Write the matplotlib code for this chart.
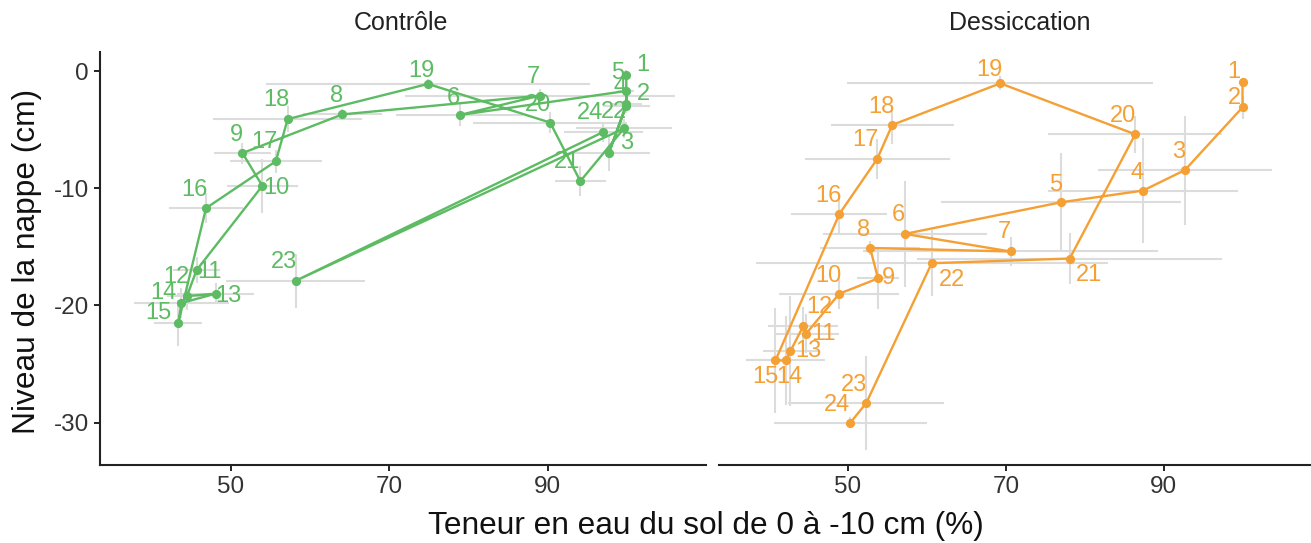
import matplotlib
matplotlib.use('Agg')
import matplotlib.pyplot as plt

plt.rcParams['font.family'] = ['Liberation Sans', 'DejaVu Sans']
plt.rcParams['axes.unicode_minus'] = False

week = list(range(1, 25))

# Contrôle
ctrl_x = [99.9, 99.9, 97.7, 99.9, 99.9, 78.9, 89.0, 64.1, 51.5, 54.0, 45.7, 44.5,
          48.1, 43.8, 43.4, 46.9, 55.7, 57.2, 74.9, 90.3, 94.1, 99.6, 58.2, 97.0]
ctrl_y = [-0.3, -2.8, -7.0, -3.0, -1.7, -3.75, -2.1, -3.7, -7.0, -9.8, -17.0, -19.2,
          -19.0, -19.8, -21.5, -11.7, -7.7, -4.1, -1.1, -4.4, -9.4, -4.9, -17.9, -5.2]
ctrl_xerr = [0.5, 2.0, 5.2, 3.0, 1.0, 8.0, 17.0, 5.0, 3.6, 4.5, 3.0, 2.5,
             4.8, 6.0, 3.0, 4.7, 5.8, 9.4, 20.4, 9.7, 3.2, 6.0, 8.8, 5.0]
ctrl_yerr = [0.4, 0.5, 1.5, 0.6, 0.5, 0.9, 0.6, 0.5, 0.9, 2.3, 1.1, 1.2,
             0.9, 1.3, 2.0, 1.3, 1.0, 1.1, 0.4, 0.9, 1.3, 0.8, 2.3, 0.85]

# Dessiccation
dess_x = [100.0, 100.0, 92.7, 87.4, 77.0, 57.2, 70.6, 52.8, 53.8, 48.9, 44.7, 44.3,
          42.7, 42.1, 40.8, 48.9, 53.7, 55.6, 69.3, 86.4, 78.1, 60.6, 52.3, 50.3]
dess_y = [-0.9, -3.1, -8.45, -10.2, -11.2, -13.9, -15.4, -15.1, -17.7, -19.0, -22.4, -21.8,
          -23.9, -24.7, -24.7, -12.2, -7.5, -4.6, -1.05, -5.4, -16.0, -16.4, -28.35, -30.0]
dess_xerr = [0.0, 0.0, 11.0, 12.0, 15.2, 10.4, 18.7, 6.3, 2.7, 7.6, 4.1, 4.4,
             3.5, 5.0, 3.6, 6.1, 9.2, 7.8, 19.4, 11.0, 19.3, 22.3, 9.9, 9.7]
dess_yerr = [0.3, 1.0, 4.65, 4.5, 4.2, 4.5, 1.2, 0.6, 2.6, 1.3, 1.7, 1.7,
             4.7, 3.8, 4.5, 1.6, 1.7, 1.6, 0.6, 1.6, 2.2, 2.8, 4.0, 0.5]

# label offsets in pixels (dx right, dy down)
ctrl_off = [(17, -10), (17, -10), (18, -10), (-6, -19), (-9, -18), (-6, -17), (-6, -19), (-6, -18),
            (-6, -18), (14, 2), (13, 2), (-11, -19), (13, 2), (-18, -10), (-20, -10), (-12, -18),
            (-11, -19), (-11, -19), (-7, -13), (-12, -18), (-13, -19), (-10, -16), (-12, -19), (-13, -19)]
dess_off = [(-9, -10), (-8, -9), (-6, -18), (-6, -18), (-5, -17), (-6, -19), (-6, -19), (-7, -18),
            (10, 0), (-11, -18), (17, 0), (16, -19), (18, 0), (4, 17), (-10, 17), (-11, -18),
            (-12, -19), (-11, -18), (-11, -13), (-12, -18), (19, 16), (20, 17), (-12, -18), (-13, -18)]

W, H = 1311, 543
fig = plt.figure(figsize=(W / 100, H / 100), dpi=100)

ax1 = fig.add_axes([100 / W, (H - 465) / H, 606 / W, 413.3 / H])
ax2 = fig.add_axes([719.5 / W, (H - 465) / H, 591.5 / W, 413.3 / H])

panels = [
    (ax1, ctrl_x, ctrl_y, ctrl_xerr, ctrl_yerr, ctrl_off, '#5DBB63', (33.53, 109.95)),
    (ax2, dess_x, dess_y, dess_xerr, dess_yerr, dess_off, '#F5A035', (33.71, 108.68)),
]

for ax, x, y, xe, ye, off, col, xl in panels:
    ax.errorbar(x, y, xerr=xe, yerr=ye, fmt='none', ecolor='#DCDCDC',
                elinewidth=1.5, capsize=0, zorder=1)
    ax.plot(x, y, color=col, lw=1.7, zorder=2)
    ax.scatter(x, y, s=44, color=col, zorder=3, linewidths=0)
    for i, w in enumerate(week):
        ax.annotate(str(w), (x[i], y[i]), xytext=(off[i][0], -off[i][1]),
                    textcoords='offset pixels', ha='center', va='center',
                    fontsize=17, color=col, zorder=4)
    ax.set_xlim(*xl)
    ax.set_ylim(-33.62, 1.65)
    ax.set_xticks([50, 70, 90])
    for s in ['top', 'right']:
        ax.spines[s].set_visible(False)
    ax.spines['bottom'].set_linewidth(1.5)
    ax.spines['bottom'].set_color('#222222')
    ax.tick_params(axis='both', length=4, width=1.4, color='#222222',
                   labelsize=17.5, labelcolor='#333333', pad=4)

ax1.spines['left'].set_linewidth(1.5)
ax1.spines['left'].set_color('#222222')
ax1.set_yticks([0, -10, -20, -30])
ax2.spines['left'].set_visible(False)
ax2.tick_params(axis='y', left=False, labelleft=False)

fig.text(401 / W, 1 - 23 / H, 'Contrôle', ha='center', va='center', fontsize=18, color='#222222')
fig.text(1020 / W, 1 - 23 / H, 'Dessiccation', ha='center', va='center', fontsize=18, color='#222222')
fig.text(706 / W, 1 - 526 / H, 'Teneur en eau du sol de 0 à -10 cm (%)', ha='center',
         va='center', fontsize=22.8, color='#111111')
fig.text(27 / W, 1 - 261 / H, 'Niveau de la nappe (cm)', ha='center', va='center',
         rotation=90, fontsize=22.8, color='#111111')

fig.savefig('out.png', dpi=100, facecolor='white')
